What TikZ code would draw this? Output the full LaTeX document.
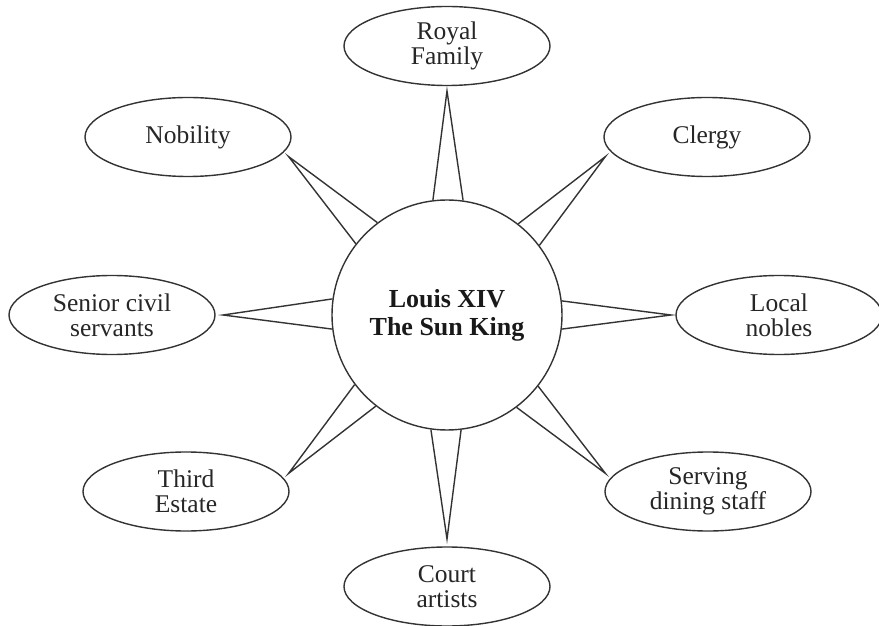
\documentclass[tikz,border=0pt]{standalone}
\usepackage{fontspec}
\setmainfont{Liberation Serif}
\usetikzlibrary{shapes.geometric,calc}
\begin{document}
\begin{tikzpicture}[x=1pt,y=1pt,
  line width=1.4pt,
  member/.style={ellipse,draw=black!80,line width=1.4pt,minimum width=206pt,minimum height=79pt,
    inner sep=0pt,align=center,font=\fontsize{25.5}{25}\selectfont,text=black!85},
  king/.style={circle,draw=black!80,line width=1.4pt,minimum size=230pt,inner sep=0pt,align=center,
    font=\fontsize{26}{28}\selectfont\bfseries,text=black!90},
  ray/.style={draw=black!80,line width=1.4pt,line join=miter}]
\useasboundingbox (0,0) rectangle (879,625);

% the king in the centre
\node[king] (c) at (447,310) {Louis XIV\\The Sun King};

% the court around him
\node[member] (royal)   at (447,579)   {Royal\\Family};
\node[member] (clergy)  at (707,488)   {Clergy};
\node[member] (nob)     at (188,488)   {Nobility};
\node[member] (senior)  at (112,310)   {Senior civil\\servants};
\node[member] (local)   at (779,310)   {Local\\nobles};
\node[member] (third)   at (186,133.5) {Third\\Estate};
\node[member] (serving) at (708,133.5) {Serving\\dining staff};
\node[member] (court)   at (447,38.5)  {Court\\artists};

% sun rays: narrow wedges from the circle toward each group
\foreach \a/\n in {90/royal,45/clergy,135/nob,180/senior,0/local,225/third,315/serving,270/court}{
  \coordinate (tip-\n) at ($(c.center)+(\a:224)$);
  \draw[ray] (c.\a+7.5) -- (tip-\n) -- (c.\a-7.5);
}
\end{tikzpicture}
\end{document}
